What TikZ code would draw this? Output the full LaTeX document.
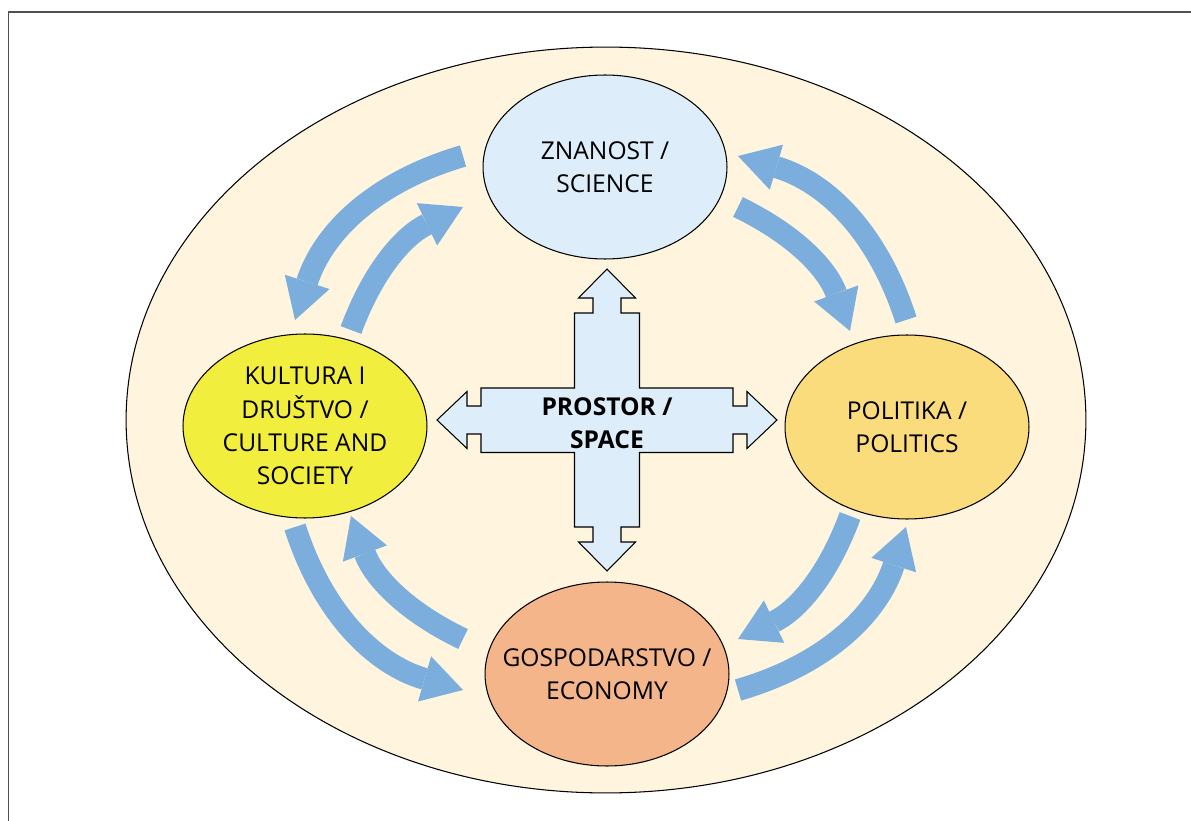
\documentclass[tikz,border=0pt]{standalone}
\usepackage{fontspec}
\setmainfont{Open Sans}
\usepackage{xcolor}
\usetikzlibrary{arrows.meta, shapes.geometric}

\definecolor{framegray}{HTML}{505050}
\definecolor{cream}{HTML}{FFF5DF}
\definecolor{sciblue}{HTML}{DDEDF9}
\definecolor{culyellow}{HTML}{F2EE3E}
\definecolor{polyellow}{HTML}{FADC7C}
\definecolor{ecoorange}{HTML}{F3B589}
\definecolor{flowblue}{HTML}{7BAEDD}

\begin{document}
\begin{tikzpicture}[
	  x=0.02cm, y=-0.02cm,
	  font=\fontsize{14}{19}\selectfont,
	  bubble/.style={
	    draw,
	    line width=0.6pt,
	    ellipse,
	    align=center,
	    inner sep=-1cm,
	    minimum width=4.88cm,
	    minimum height=3.68cm
	  },
	  flow/.style={draw=flowblue, line width=4.4mm, -{Triangle[length=8mm, width=9.4mm, line width=0pt]}},
	  ccw/.style={flow, bend right=28},
	  cw/.style={flow, bend left=22}
	]

	\useasboundingbox (0,0) rectangle (1191,821);
	\draw[line width=1.1pt, framegray] (8.5,821) -- (8.5,12) -- (1191,12);
	\draw[line width=0.6pt, fill=cream] (606,420) ellipse [x radius=9.6cm, y radius=7.46cm];

	\node[bubble, fill=sciblue] (science) at (605,167) {ZNANOST /\\SCIENCE};
	\node[bubble, fill=culyellow] (culture) at (305,426) {KULTURA I\\DRUŠTVO /\\CULTURE AND\\SOCIETY};
	\node[bubble, fill=polyellow] (politics) at (907,427) {POLITIKA /\\POLITICS};
	\node[bubble, fill=ecoorange] (economy) at (607,674) {GOSPODARSTVO /\\ECONOMY};

	\draw[line width=0.6pt, fill=sciblue]
	  (607,269) -- (635.5,298) -- (621,298) -- (621,313) -- (639.5,313) -- (639.5,388)
	  -- (733,388) -- (733,406) -- (747,406) -- (747,391.5) -- (777,420) -- (747,448.5)
	  -- (747,434) -- (733,434) -- (733,452.5) -- (639.5,452.5)
	  -- (639.5,527) -- (621,527) -- (621,542) -- (635.5,542) -- (607,571) -- (578.5,542)
	  -- (593,542) -- (593,527) -- (574.5,527) -- (574.5,452.5)
	  -- (481,452.5) -- (481,434) -- (467,434) -- (467,448.5) -- (437,420) -- (467,391.5)
	  -- (467,406) -- (481,406) -- (481,388) -- (574.5,388)
	  -- (574.5,313) -- (593,313) -- (593,298) -- (578.5,298) -- cycle;
	\node[align=center, font=\fontsize{14}{19}\selectfont\bfseries] (space) at (607,423) {PROSTOR /\\SPACE};

	\coordinate (sc-a) at (463,156);  \coordinate (sc-b) at (295,320);
	\coordinate (cs-a) at (351,330);  \coordinate (cs-b) at (463,207);
	\coordinate (sp-a) at (738,207);  \coordinate (sp-b) at (850,331);
	\coordinate (ps-a) at (906,320);  \coordinate (ps-b) at (738,156);
	\coordinate (ce-a) at (295,527);  \coordinate (ce-b) at (463,690);
	\coordinate (ec-a) at (463,639);  \coordinate (ec-b) at (351,516);
	\coordinate (ep-a) at (738,690);  \coordinate (ep-b) at (906,527);
	\coordinate (pe-a) at (850,516);  \coordinate (pe-b) at (738,639);

	\draw[ccw] (sc-a) to (sc-b);
	\draw[cw] (cs-a) to (cs-b);
	\draw[cw] (sp-a) to (sp-b);
	\draw[ccw] (ps-a) to (ps-b);
	\draw[ccw] (ce-a) to (ce-b);
	\draw[cw] (ec-a) to (ec-b);
	\draw[ccw] (ep-a) to (ep-b);
	\draw[cw] (pe-a) to (pe-b);

\end{tikzpicture}
\end{document}
